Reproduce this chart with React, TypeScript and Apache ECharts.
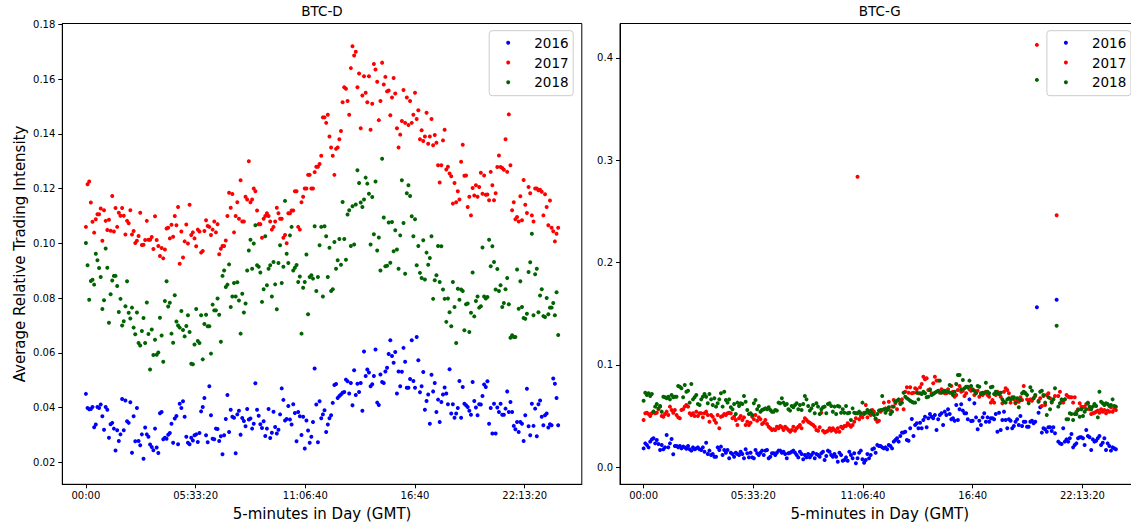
import { useEffect, useRef } from "react";
import * as echarts from "echarts";

// Average relative trading intensity per 5-minute slot of the day (288 slots)
const SLOT_SECONDS = 300;
const YEARS = ["2016", "2017", "2018"];
const COLORS = ["#0000ff", "#ff0000", "#006400"];
const PANEL_TITLES = ["BTC-D", "BTC-G"];

const X_TICKS = [0, 20000, 40000, 60000, 80000];
const X_TICK_LABELS = ["00:00", "05:33:20", "11:06:40", "16:40", "22:13:20"];
const D_Y_TICKS = [0.02, 0.04, 0.06, 0.08, 0.1, 0.12, 0.14, 0.16, 0.18];
const G_Y_TICKS = [0, 0.1, 0.2, 0.3, 0.4];

const D_2016 = [
  0.0450,0.0398,0.0394,0.0395,0.0402,0.0328,0.0338,0.0402,0.0398,0.0411,0.0368,0.0319,0.0402,0.0392,0.0290,0.0339,0.0344,0.0323,0.0243,0.0317,0.0278,0.0302,0.0431,0.0317,0.0426,0.0350,0.0344,0.0419,0.0235,0.0368,0.0277,0.0398,0.0278,0.0262,0.0302,0.0213,0.0327,0.0302,0.0293,0.0265,0.0256,0.0244,0.0323,0.0254,0.0234,0.0379,0.0384,0.0284,0.0290,0.0286,0.0301,0.0307,0.0341,0.0271,0.0360,0.0369,0.0266,0.0414,0.0398,0.0423,0.0366,0.0293,0.0271,0.0266,0.0290,0.0280,0.0299,0.0302,0.0274,0.0307,0.0386,0.0402,0.0435,0.0299,0.0273,
  0.0478,0.0372,0.0286,0.0284,0.0323,0.0322,0.0278,0.0295,0.0229,0.0299,0.0358,0.0446,0.0311,0.0392,0.0366,0.0363,0.0233,0.0375,0.0388,0.0301,0.0362,0.0351,0.0332,0.0395,0.0356,0.0360,0.0323,0.0341,0.0489,0.0392,0.0370,0.0339,0.0325,0.0350,0.0296,0.0323,0.0395,0.0289,0.0308,0.0385,0.0329,0.0305,0.0319,0.0375,0.0470,0.0428,0.0353,0.0358,0.0406,0.0356,0.0338,0.0412,0.0380,0.0277,0.0384,0.0368,0.0300,0.0366,0.0250,0.0353,0.0316,0.0271,0.0293,0.0347,0.0543,0.0411,0.0273,0.0423,0.0361,0.0375,0.0390,0.0311,0.0338,0.0361,0.0372,0.0417,0.0482,
  0.0486,0.0435,0.0442,0.0448,0.0454,0.0457,0.0502,0.0496,0.0451,0.0490,0.0408,0.0536,0.0446,0.0487,0.0457,0.0490,0.0388,0.0605,0.0515,0.0539,0.0528,0.0478,0.0485,0.0515,0.0612,0.0418,0.0409,0.0521,0.0493,0.0490,0.0532,0.0545,0.0596,0.0646,0.0588,0.0564,0.0603,0.0451,0.0532,0.0478,0.0531,0.0618,0.0567,0.0472,0.0472,0.0504,0.0646,0.0497,0.0472,0.0658,0.0573,0.0456,0.0478,0.0530,0.0392,0.0424,0.0448,0.0341,0.0520,0.0459,0.0490,0.0384,0.0429,0.0347,0.0420,0.0448,0.0473,0.0451,0.0412,0.0540,0.0378,0.0412,0.0363,0.0378,0.0398,0.0497,
  0.0363,0.0475,0.0414,0.0408,0.0402,0.0388,0.0374,0.0493,0.0424,0.0400,0.0372,0.0412,0.0411,0.0442,0.0484,0.0475,0.0496,0.0341,0.0398,0.0305,0.0414,0.0305,0.0400,0.0384,0.0414,0.0374,0.0374,0.0396,0.0459,0.0384,0.0420,0.0384,0.0333,0.0321,0.0347,0.0311,0.0347,0.0341,0.0278,0.0372,0.0469,0.0332,0.0299,0.0414,0.0333,0.0396,0.0295,0.0412,0.0426,0.0366,0.0335,0.0372,0.0378,0.0327,0.0339,0.0335,0.0506,0.0487,0.0435,0.0335,
];

const D_2017 = [
  0.1060,0.1216,0.1226,0.1149,0.1079,0.1039,0.1088,0.1106,0.1106,0.1127,0.1009,0.1121,0.1082,0.1049,0.1086,0.1046,0.1173,0.1043,0.1129,0.1060,0.1112,0.1101,0.1129,0.1101,0.1032,0.1082,0.1073,0.1121,0.1032,0.1045,0.1001,0.1009,0.1027,0.1112,0.0994,0.0995,0.1012,0.1082,0.1013,0.1013,0.1023,0.0979,0.1099,0.1012,0.0990,0.0954,0.0983,0.0945,0.0977,0.1054,0.1057,0.1018,0.1068,0.1024,0.1100,0.1066,0.1133,0.0925,0.1043,0.0948,0.1007,0.1069,0.0999,0.1141,0.1030,0.1040,0.1018,0.0989,0.1050,0.1043,0.0966,0.0972,0.1045,0.1084,0.1063,
  0.1060,0.1030,0.1050,0.1080,0.1040,0.1070,0.0960,0.0980,0.0990,0.0990,0.1010,0.1100,0.1185,0.1130,0.1180,0.1040,0.1100,0.1150,0.1090,0.1230,0.1080,0.1080,0.1170,0.1160,0.1300,0.1150,0.1160,0.1200,0.1190,0.1120,0.1070,0.1070,0.1020,0.1090,0.1100,0.1110,0.1100,0.1080,0.1050,0.1060,0.1080,0.1130,0.1110,0.1090,0.1090,0.1020,0.1030,0.1000,0.1110,0.1110,0.1120,0.1120,0.1190,0.1190,0.1060,0.1050,0.1150,0.1170,0.1200,0.1200,0.1250,0.1250,0.1200,0.1200,0.1260,0.1280,0.1280,0.1290,0.1320,0.1460,0.1460,0.1440,0.1470,0.1390,0.1350,0.1320,0.1250,
  0.1345,0.1350,0.1380,0.1410,
  0.1515,0.1570,0.1565,0.1520,0.1470,0.1640,0.1720,0.1686,0.1700,0.1570,0.1620,0.1420,0.1540,0.1610,0.1550,0.1515,0.1610,0.1415,0.1510,0.1655,0.1635,0.1590,0.1450,0.1520,0.1660,0.1580,0.1608,0.1555,0.1558,0.1468,0.1533,0.1604,0.1547,0.1420,0.1350,0.1397,0.1447,0.1560,0.1440,0.1533,0.1432,0.1520,0.1440,0.1470,0.1550,0.1454,0.1486,0.1380,0.1413,0.1374,0.1390,0.1477,0.1364,0.1390,0.1454,0.1358,0.1396,0.1367,0.1285,0.1222,0.1285,0.1376,0.1415,0.1270,0.1280,0.1255,0.1245,0.1145,0.1220,0.1150,0.1190,0.1160,
  0.1298,0.1360,0.1247,0.1248,0.1133,0.1170,0.1102,0.1202,0.1175,0.1212,0.1170,0.1206,0.1258,0.1181,0.1248,0.1177,0.1178,0.1157,0.1261,0.1212,0.1157,0.1183,0.1279,0.1321,0.1279,0.1275,0.1269,0.1380,0.1261,0.1471,0.1285,0.1121,0.1150,0.1088,0.1096,0.1080,0.1172,0.1084,0.1231,0.1141,0.1111,0.1206,0.1183,0.1102,0.1080,0.1200,0.1200,0.1194,0.1196,0.1188,0.1102,0.1179,0.1133,0.1066,0.1156,0.1057,0.1044,0.1007,0.1035,0.1057,
];

const D_2018 = [
  0.1001,0.0920,0.0794,0.0862,0.0867,0.0849,0.0962,0.0938,0.0910,0.0877,0.0760,0.0792,0.0981,0.0911,0.0710,0.0814,0.0864,0.0881,0.0881,0.0844,0.0749,0.0797,0.0700,0.0715,0.0770,0.0861,0.0746,0.0725,0.0765,0.0692,0.0668,0.0747,0.0636,0.0627,0.0680,0.0727,0.0636,0.0784,0.0669,0.0539,0.0685,0.0592,0.0648,0.0593,0.0601,0.0728,0.0663,0.0567,0.0789,0.0861,0.0769,0.0783,0.0670,0.0637,0.0810,0.0714,0.0700,0.0692,0.0753,0.0683,0.0660,0.0698,0.0737,0.0676,0.0560,0.0558,0.0630,0.0760,0.0643,0.0636,0.0737,0.0576,0.0705,0.0739,0.0697,
  0.0697,0.0597,0.0776,0.0755,0.0755,0.0798,0.0739,0.0640,0.0881,0.0901,0.0840,0.0849,0.0923,0.0767,0.0806,0.0855,0.0806,0.0858,0.0791,0.0670,0.0816,0.0747,0.0780,0.0901,0.0974,0.1013,0.0907,0.0999,0.1066,0.0920,0.0914,0.0893,0.0786,0.0832,0.1026,0.0847,0.0907,0.0920,0.0806,0.0932,0.0850,0.0759,0.0928,0.0993,0.0855,0.0914,0.1155,0.0962,0.0928,0.1029,0.1060,0.0901,0.0911,0.0921,0.0859,0.0879,0.0670,0.0838,0.0859,0.0959,0.0741,0.0877,0.0883,0.0871,0.1062,0.0826,0.0877,0.0993,0.1060,0.0806,0.1062,0.1026,0.0877,0.0984,0.0826,0.0832,0.1005,
  0.0907,0.0938,0.1016,0.0922,0.1151,0.1016,0.0940,0.1105,0.1121,0.0990,0.1135,0.0996,0.1142,0.1267,0.1220,0.1149,0.1133,0.1160,0.1240,0.1218,0.1181,0.0996,0.1169,0.1033,0.1226,0.0974,0.1021,0.0901,0.1309,0.1094,0.0916,0.0918,0.1076,0.0929,0.1078,0.0971,0.1048,0.0977,0.0907,0.1029,0.1230,0.1074,0.0889,0.1183,0.1212,0.1173,0.1099,0.1026,0.1088,0.0920,0.0990,0.0892,0.0873,0.1011,0.0868,0.0966,0.0922,0.0946,0.1026,0.0797,0.0865,0.0883,0.0990,0.0859,0.0989,0.0831,0.0797,0.0713,0.0798,0.0748,0.0697,0.0859,0.0767,0.0636,0.0834,0.0794,
  0.0831,0.0826,0.0682,0.0777,0.0780,0.0676,0.0746,0.0893,0.0733,0.0789,0.0806,0.0765,0.0770,0.0985,0.0806,0.0798,0.0804,0.1013,0.0916,0.0989,0.0932,0.0831,0.0906,0.0826,0.0847,0.0767,0.0782,0.0832,0.0873,0.0777,0.0655,0.0664,0.0658,0.0658,0.0904,0.0761,0.0861,0.0767,0.0727,0.0724,0.0743,0.0895,0.0931,0.1035,0.0737,0.0887,0.0907,0.0748,0.0809,0.0832,0.0734,0.0731,0.0800,0.0741,0.0765,0.0765,0.0782,0.0737,0.0821,0.0665,
];

const G_2016 = [
  0.0185,0.0234,0.0218,0.0195,0.0251,0.0273,0.0283,0.0234,0.0267,0.0228,0.0169,0.0218,0.0176,0.0195,0.0316,0.0195,0.0234,0.0277,0.0127,0.0208,0.0208,0.0195,0.0208,0.0185,0.0202,0.0195,0.0182,0.0208,0.0176,0.0163,0.0195,0.0176,0.0185,0.0195,0.0176,0.0169,0.0195,0.0153,0.0241,0.0130,0.0163,0.0120,0.0130,0.0104,0.0104,0.0195,0.0169,0.0202,0.0120,0.0169,0.0143,0.0169,0.0088,0.0143,0.0130,0.0104,0.0143,0.0130,0.0120,0.0153,0.0130,0.0088,0.0176,0.0137,0.0097,0.0143,0.0097,0.0088,0.0169,0.0137,0.0120,
  0.0143,0.0163,0.0120,0.0163,0.0169,0.0088,0.0104,0.0137,0.0137,0.0120,0.0143,0.0163,0.0163,0.0143,0.0153,0.0130,0.0088,0.0137,0.0143,0.0153,0.0163,0.0143,0.0120,0.0097,0.0153,0.0130,0.0078,0.0120,0.0097,0.0130,0.0097,0.0120,0.0143,0.0088,0.0130,0.0120,0.0104,0.0137,0.0153,0.0071,0.0110,0.0163,0.0153,0.0120,0.0104,0.0130,0.0104,0.0055,0.0143,0.0120,0.0065,0.0071,0.0097,0.0065,0.0153,0.0120,0.0088,0.0137,0.0039,0.0088,0.0143,0.0163,0.0078,0.0045,0.0071,0.0130,0.0088,0.0120,0.0176,0.0185,0.0143,0.0218,0.0208,0.0208,0.0195,0.0185,
  0.0195,0.0176,0.0218,0.0208,0.0185,0.0251,0.0267,0.0283,0.0251,0.0306,0.0339,0.0339,0.0348,0.0267,0.0260,0.0381,0.0472,0.0306,0.0413,0.0430,0.0381,0.0436,0.0381,0.0462,0.0495,0.0391,0.0479,0.0521,0.0495,0.0479,0.0511,0.0365,0.0469,0.0511,0.0528,0.0413,0.0544,0.0511,0.0567,0.0521,0.0469,0.0479,0.0456,0.0609,0.0462,0.0567,0.0616,0.0554,0.0528,0.0528,0.0469,0.0664,0.0453,0.0456,0.0625,0.0488,0.0371,0.0456,0.0413,0.0488,0.0528,0.0446,0.0488,0.0446,0.0479,0.0479,0.0469,0.0521,0.0348,0.0534,0.0365,0.0462,0.0544,0.0462,0.0381,0.0469,
  0.0456,0.0381,0.0404,0.0446,0.0469,0.0413,0.0501,0.0404,0.0446,0.0446,0.0397,0.0397,0.0446,0.0456,0.0430,0.0446,0.1564,0.0534,0.0586,0.0339,0.0381,0.0371,0.0348,0.0391,0.0391,0.0355,0.0391,0.0332,0.1638,0.0251,0.0234,0.0228,0.0381,0.0251,0.0273,0.0251,0.0283,0.0326,0.0195,0.0218,0.0234,0.0283,0.0293,0.0293,0.0283,0.0218,0.0365,0.0306,0.0293,0.0169,0.0273,0.0251,0.0260,0.0283,0.0306,0.0218,0.0241,0.0283,0.0169,0.0234,0.0208,0.0163,0.0195,0.0185,0.0176,
];

const G_2017 = [
  0.0462,0.0528,0.0534,0.0521,0.0501,0.0528,0.0544,0.0528,0.0534,0.0567,0.0593,0.0501,0.0495,0.0521,0.0544,0.0511,0.0593,0.0560,0.0534,0.0560,0.0511,0.0488,0.0479,0.0560,0.0567,0.0593,0.0609,0.0593,0.0528,0.0511,0.0528,0.0501,0.0544,0.0501,0.0528,0.0528,0.0488,0.0528,0.0544,0.0511,0.0446,0.0511,0.0495,0.0462,0.0436,0.0511,0.0381,0.0495,0.0501,0.0521,0.0511,0.0528,0.0534,0.0528,0.0479,0.0495,0.0462,0.0413,0.0479,0.0501,0.0462,0.0488,0.0413,0.0446,0.0413,0.0436,0.0495,0.0469,0.0511,0.0456,0.0488,
  0.0469,0.0423,0.0436,0.0462,0.0423,0.0397,0.0381,0.0365,0.0371,0.0365,0.0397,0.0381,0.0404,0.0391,0.0365,0.0397,0.0381,0.0365,0.0348,0.0365,0.0397,0.0358,0.0381,0.0397,0.0413,0.0381,0.0446,0.0479,0.0462,0.0446,0.0436,0.0423,0.0413,0.0397,0.0365,0.0358,0.0391,0.0534,0.0358,0.0339,0.0348,0.0358,0.0381,0.0358,0.0381,0.0365,0.0348,0.0381,0.0348,0.0397,0.0381,0.0404,0.0404,0.0430,0.0413,0.0397,0.0413,0.0446,0.0479,0.2840,0.0469,0.0501,0.0488,0.0534,0.0609,0.0488,0.0528,0.0511,0.0560,0.0544,0.0469,0.0446,0.0456,0.0544,0.0560,0.0632,
  0.0576,0.0567,0.0641,0.0554,0.0593,0.0658,0.0625,0.0567,0.0658,0.0632,0.0664,0.0567,0.0739,0.0782,0.0729,0.0782,0.0723,0.0729,0.0772,0.0762,0.0723,0.0782,0.0814,0.0886,0.0860,0.0870,0.0756,0.0762,0.0723,0.0821,0.0886,0.0847,0.0847,0.0729,0.0762,0.0749,0.0723,0.0723,0.0762,0.0729,0.0795,0.0739,0.0690,0.0707,0.0756,0.0795,0.0739,0.0749,0.0697,0.0723,0.0788,0.0762,0.0749,0.0762,0.0707,0.0739,0.0749,0.0690,0.0723,0.0707,0.0723,0.0739,0.0707,0.0690,0.0632,0.0658,0.0632,0.0707,0.0739,0.0723,0.0690,0.0625,0.0739,0.0772,0.0756,0.0723,
  0.0632,0.0684,0.0664,0.0625,0.0658,0.0641,0.0684,0.0658,0.0795,0.0723,0.0664,0.0651,0.0664,0.0651,0.0674,0.0697,0.4128,0.0651,0.0674,0.0599,0.0697,0.0609,0.0707,0.0723,0.0674,0.0632,0.0664,0.0697,0.2463,0.0697,0.0739,0.0641,0.0632,0.0664,0.0707,0.0690,0.0684,0.0684,0.0632,0.0684,0.0544,0.0567,0.0625,0.0593,0.0586,0.0593,0.0619,0.0632,0.0567,0.0521,0.0528,0.0534,0.0544,0.0554,0.0534,0.0567,0.0544,0.0560,0.0528,0.0554,0.0544,0.0586,0.0544,0.0567,0.0560,
];

const G_2018 = [
  0.0651,0.0729,0.0707,0.0723,0.0697,0.0717,0.0544,0.0593,0.0619,0.0576,0.0599,0.0544,0.0690,0.0684,0.0674,0.0690,0.0664,0.0707,0.0684,0.0690,0.0690,0.0795,0.0788,0.0772,0.0684,0.0804,0.0739,0.0749,0.0632,0.0814,0.0664,0.0684,0.0707,0.0619,0.0609,0.0664,0.0690,0.0717,0.0690,0.0625,0.0717,0.0664,0.0609,0.0674,0.0593,0.0625,0.0664,0.0723,0.0593,0.0739,0.0658,0.0632,0.0664,0.0586,0.0567,0.0619,0.0521,0.0632,0.0599,0.0625,0.0619,0.0697,0.0641,0.0560,0.0521,0.0528,0.0511,0.0625,0.0658,0.0567,0.0599,
  0.0544,0.0560,0.0567,0.0576,0.0567,0.0586,0.0560,0.0544,0.0544,0.0560,0.0554,0.0632,0.0625,0.0674,0.0632,0.0609,0.0619,0.0567,0.0554,0.0599,0.0586,0.0609,0.0625,0.0567,0.0609,0.0560,0.0619,0.0697,0.0664,0.0599,0.0554,0.0576,0.0609,0.0528,0.0625,0.0593,0.0521,0.0567,0.0586,0.0593,0.0528,0.0619,0.0625,0.0599,0.0544,0.0593,0.0521,0.0599,0.0593,0.0534,0.0567,0.0534,0.0599,0.0528,0.0534,0.0462,0.0576,0.0534,0.0528,0.0528,0.0544,0.0528,0.0632,0.0521,0.0534,0.0560,0.0534,0.0554,0.0528,0.0511,0.0478,0.0521,0.0554,0.0560,0.0697,0.0567,
  0.0534,0.0560,0.0586,0.0521,0.0544,0.0593,0.0641,0.0651,0.0664,0.0619,0.0632,0.0729,0.0690,0.0674,0.0664,0.0651,0.0641,0.0632,0.0632,0.0729,0.0664,0.0723,0.0717,0.0739,0.0723,0.0684,0.0690,0.0756,0.0707,0.0717,0.0729,0.0739,0.0749,0.0847,0.0729,0.0739,0.0749,0.0739,0.0739,0.0805,0.0729,0.0707,0.0739,0.0814,0.0902,0.0902,0.0762,0.0854,0.0772,0.0788,0.0782,0.0847,0.0795,0.0756,0.0749,0.0723,0.0795,0.0788,0.0717,0.0729,0.0729,0.0827,0.0739,0.0723,0.0782,0.0788,0.0717,0.0739,0.0723,0.0717,0.0729,0.0664,0.0641,0.0632,0.0664,0.0674,
  0.0664,0.0674,0.0684,0.0632,0.0674,0.0586,0.0658,0.0723,0.0739,0.0723,0.0707,0.0625,0.0782,0.0749,0.0674,0.0707,0.3786,0.0641,0.0739,0.0749,0.0707,0.0632,0.0511,0.0684,0.0567,0.0641,0.0664,0.0772,0.1384,0.0593,0.0625,0.0664,0.0658,0.0664,0.0469,0.0469,0.0528,0.0521,0.0462,0.0521,0.0521,0.0560,0.0495,0.0567,0.0501,0.0544,0.0567,0.0625,0.0593,0.0567,0.0593,0.0619,0.0599,0.0488,0.0739,0.0641,0.0625,0.0609,0.0625,0.0619,0.0599,0.0609,0.0664,0.0599,0.0593,
];

const PANEL_SERIES = [
  [D_2016, D_2017, D_2018],
  [G_2016, G_2017, G_2018],
];

const FONT = "DejaVu Sans";

// Plot-area geometry (pixels); the right panel runs slightly past the visible edge
const GRID_TOP = 23.5;
const GRID_HEIGHT = 460.8;
const GRID_WIDTH = 519.5;
const GRID_LEFTS = [62.3, 620];
const X_RANGE = [-4305, 90405];
const Y_RANGES = [
  [0.01196, 0.1803],
  [-0.0166, 0.4337],
];
const Y_TICKS = [D_Y_TICKS, G_Y_TICKS];
const Y_DECIMALS = [2, 1];

function buildOption() {
  const grid = GRID_LEFTS.map((left) => ({
    left,
    top: GRID_TOP,
    width: GRID_WIDTH,
    height: GRID_HEIGHT,
    show: true,
    borderColor: "#000",
    borderWidth: 1,
    backgroundColor: "transparent",
  }));

  const xAxis = GRID_LEFTS.map((_, p) => ({
    type: "value",
    gridIndex: p,
    min: X_RANGE[0],
    max: X_RANGE[1],
    axisLine: { show: true, onZero: false, lineStyle: { color: "#000", width: 1 } },
    splitLine: { show: false },
    axisTick: {
      show: true,
      length: 4,
      customValues: X_TICKS,
      lineStyle: { color: "#000", width: 1 },
    },
    axisLabel: {
      customValues: X_TICKS,
      formatter: (v: number) => X_TICK_LABELS[X_TICKS.indexOf(v)] ?? "",
      fontFamily: FONT,
      fontSize: 10,
      color: "#000",
      margin: 6,
    },
  }));

  const yAxis = GRID_LEFTS.map((_, p) => ({
    type: "value",
    gridIndex: p,
    min: Y_RANGES[p][0],
    max: Y_RANGES[p][1],
    axisLine: { show: true, onZero: false, lineStyle: { color: "#000", width: 1 } },
    splitLine: { show: false },
    axisTick: {
      show: true,
      length: 4,
      customValues: Y_TICKS[p],
      lineStyle: { color: "#000", width: 1 },
    },
    axisLabel: {
      customValues: Y_TICKS[p],
      formatter: (v: number) => v.toFixed(Y_DECIMALS[p]),
      fontFamily: FONT,
      fontSize: 10,
      color: "#000",
      margin: 7,
    },
  }));

  const series: any[] = [];
  PANEL_SERIES.forEach((panel, p) => {
    panel.forEach((values, k) => {
      series.push({
        type: "scatter",
        name: YEARS[k],
        xAxisIndex: p,
        yAxisIndex: p,
        symbol: "circle",
        symbolSize: 4,
        silent: true,
        itemStyle: { color: COLORS[k], opacity: 1 },
        data: values.map((v, i) => [i * SLOT_SECONDS, v]),
      });
    });
  });

  const graphic: any[] = [];
  GRID_LEFTS.forEach((left, p) => {
    const centerX = left + GRID_WIDTH / 2;
    graphic.push({
      type: "text",
      x: centerX,
      y: 11,
      style: {
        text: PANEL_TITLES[p],
        fill: "#000",
        font: `13.5px "${FONT}"`,
        textAlign: "center",
        textVerticalAlign: "middle",
      },
    });
    graphic.push({
      type: "text",
      x: centerX,
      y: 514,
      style: {
        text: "5-minutes in Day (GMT)",
        fill: "#000",
        font: `15px "${FONT}"`,
        textAlign: "center",
        textVerticalAlign: "middle",
      },
    });

    // legend box in the upper right corner of each panel
    const boxRight = left + GRID_WIDTH - 8.6;
    const boxLeft = boxRight - 84;
    const boxTop = 30.7;
    graphic.push({
      type: "rect",
      z: 100,
      shape: { x: boxLeft, y: boxTop, width: 84, height: 65, r: 3 },
      style: { fill: "rgba(255,255,255,0.8)", stroke: "#cccccc", lineWidth: 1 },
    });
    YEARS.forEach((year, k) => {
      const cy = 42.7 + k * 19.8;
      graphic.push({
        type: "circle",
        z: 101,
        shape: { cx: boxLeft + 19, cy, r: 2 },
        style: { fill: COLORS[k] },
      });
      graphic.push({
        type: "text",
        z: 101,
        x: boxLeft + 45,
        y: cy,
        style: {
          text: year,
          fill: "#000",
          font: `13.5px "${FONT}"`,
          textAlign: "left",
          textVerticalAlign: "middle",
        },
      });
    });
  });

  graphic.push({
    type: "text",
    x: 19.5,
    y: 254,
    rotation: Math.PI / 2,
    style: {
      text: "Average Relative Trading Intensity",
      fill: "#000",
      font: `15px "${FONT}"`,
      textAlign: "center",
      textVerticalAlign: "middle",
    },
  });

  return {
    animation: false,
    backgroundColor: "#fff",
    grid,
    xAxis,
    yAxis,
    series,
    graphic,
  };
}

export default function App() {
  const ref = useRef<HTMLDivElement>(null);

  useEffect(() => {
    if (!ref.current) return;
    const chart = echarts.init(ref.current, undefined, { renderer: "svg" });
    chart.setOption(buildOption() as any);
    return () => chart.dispose();
  }, []);

  return (
    <div
      style={{
        position: "fixed",
        left: 0,
        top: 0,
        width: 1131,
        height: 523,
        overflow: "hidden",
        background: "#fff",
      }}
    >
      <div ref={ref} style={{ width: 1140, height: 523 }} />
    </div>
  );
}
